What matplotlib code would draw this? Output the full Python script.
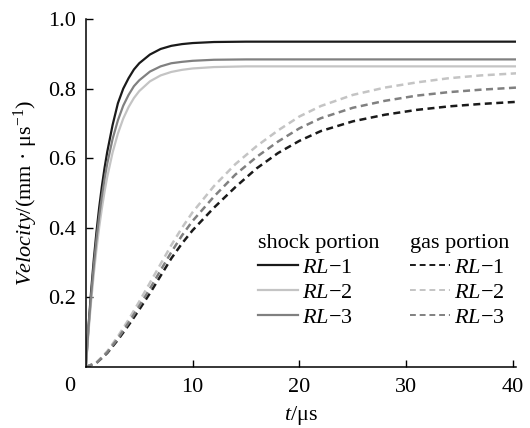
import matplotlib
matplotlib.use("Agg")
import matplotlib.pyplot as plt
from matplotlib.lines import Line2D

plt.rcParams['font.family'] = ['Liberation Serif', 'DejaVu Serif']
plt.rcParams['mathtext.fontset'] = 'custom'
plt.rcParams['mathtext.rm'] = 'Liberation Serif'
plt.rcParams['mathtext.it'] = 'Liberation Serif:italic'

# shock portion (solid)
t_shock = [0, 0.25, 0.5, 0.75, 1, 1.25, 1.5, 1.75, 2, 2.5, 3, 3.5, 4, 4.5, 5, 6, 7, 8, 9, 10, 12, 15, 20, 30, 40.3]
shock_rl1 = [0, 0.118, 0.221, 0.311, 0.390, 0.459, 0.519, 0.572, 0.618, 0.695, 0.758, 0.800, 0.830, 0.855,
             0.873, 0.898, 0.914, 0.923, 0.928, 0.931, 0.934, 0.935, 0.935, 0.935, 0.935]
shock_rl2 = [0, 0.102, 0.191, 0.270, 0.340, 0.402, 0.456, 0.504, 0.546, 0.616, 0.671, 0.714, 0.747, 0.773,
             0.793, 0.821, 0.838, 0.848, 0.854, 0.858, 0.862, 0.864, 0.864, 0.864, 0.864]
shock_rl3 = [0, 0.112, 0.209, 0.294, 0.369, 0.434, 0.491, 0.541, 0.584, 0.655, 0.709, 0.751, 0.782, 0.807,
             0.824, 0.849, 0.864, 0.873, 0.877, 0.880, 0.883, 0.884, 0.884, 0.884, 0.884]

# gas portion (dashed)
t_gas = [0, 1, 2, 3, 4, 5, 6, 7, 8, 9, 10, 12, 14, 16, 18, 20, 22, 25, 28, 31, 34, 37, 40.3]
gas_rl1 = [0, 0.012, 0.04, 0.078, 0.12, 0.165, 0.212, 0.262, 0.312, 0.355, 0.393, 0.458, 0.517, 0.571, 0.615,
           0.65, 0.678, 0.706, 0.725, 0.739, 0.749, 0.756, 0.762]
gas_rl2 = [0, 0.013, 0.045, 0.088, 0.136, 0.188, 0.242, 0.296, 0.35, 0.40, 0.445, 0.52, 0.583, 0.635, 0.68,
           0.72, 0.75, 0.782, 0.803, 0.818, 0.83, 0.838, 0.844]
gas_rl3 = [0, 0.012, 0.042, 0.082, 0.127, 0.175, 0.225, 0.278, 0.33, 0.378, 0.42, 0.49, 0.553, 0.604, 0.648,
           0.686, 0.715, 0.745, 0.765, 0.78, 0.79, 0.797, 0.803]

labels = ['$RL$\u22121', '$RL$\u22122', '$RL$\u22123']
colors = ['#1a1a1a', '#c4c4c4', '#808080']
fs = 16

fig = plt.figure(figsize=(5.3, 4.28), dpi=100)
ax = fig.add_axes([0.162, 0.1425, 0.812, 0.813])

for ys, c in zip([shock_rl1, shock_rl2, shock_rl3], colors):
    ax.plot(t_shock, ys, color=c, lw=1.6, solid_capstyle='butt')
for ys, c in zip([gas_rl1, gas_rl2, gas_rl3], colors):
    ax.plot(t_gas, ys, color=c, lw=1.8, dashes=(2.8, 1.8))

ax.set_xlim(0, 40.3)
ax.set_ylim(0, 1.0)
ax.set_xticks([10, 20, 30, 40])
ax.set_yticks([0.2, 0.4, 0.6, 0.8, 1.0])
ax.set_yticklabels(['0.2', '0.4', '0.6', '0.8', '1.0'])
ax.tick_params(direction='in', length=5, width=1, labelsize=fs)
ax.tick_params(axis='x', pad=8)
ax.tick_params(axis='y', pad=7)
ax.annotate('0', xy=(0, 0), xytext=(-12, -7), textcoords='offset points',
            fontsize=fs, ha='center', va='top')
for s in ['top', 'right']:
    ax.spines[s].set_visible(False)
for s in ['left', 'bottom']:
    ax.spines[s].set_linewidth(1.1)

ax.set_xlabel('$t$/\u03bcs', fontsize=fs, labelpad=5)
ax.set_ylabel('$Velocity$/(mm \u00b7 \u03bcs$^{-1}$)', fontsize=fs, labelpad=6)

h_shock = [Line2D([], [], color=c, lw=1.6) for c in colors]
h_gas = [Line2D([], [], color=c, lw=1.4, dashes=(3, 2)) for c in colors]
leg1 = ax.legend(h_shock, labels, title='shock portion', loc='upper left',
                 bbox_to_anchor=(0.374, 0.414), frameon=False, fontsize=fs,
                 title_fontsize=fs, handlelength=1.8, handletextpad=0.2,
                 labelspacing=0.2, alignment='left', borderpad=0)
ax.add_artist(leg1)
ax.legend(h_gas, labels, title='gas portion', loc='upper left',
          bbox_to_anchor=(0.727, 0.414), frameon=False, fontsize=fs,
          title_fontsize=fs, handlelength=1.8, handletextpad=0.2,
          labelspacing=0.2, alignment='left', borderpad=0)

fig.savefig('out.png', dpi=100)
